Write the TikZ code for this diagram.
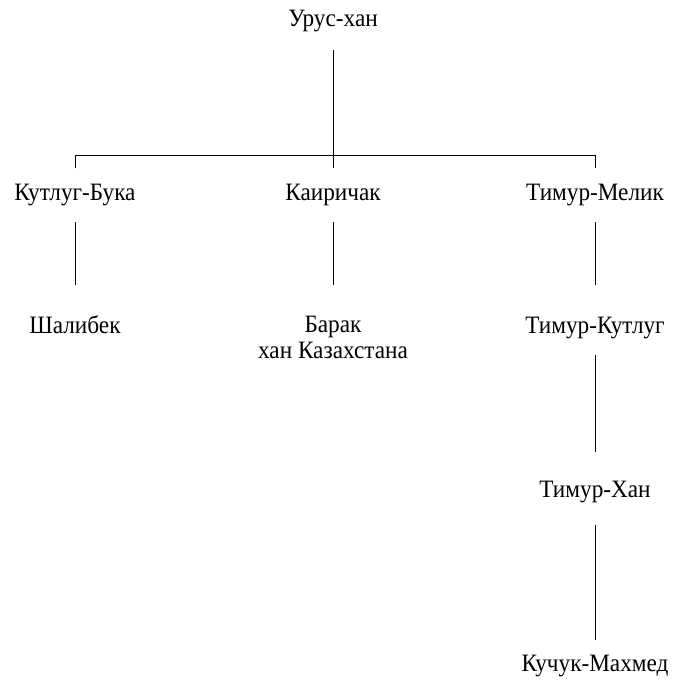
\documentclass[tikz,border=0pt]{standalone}
\usepackage{fontspec}
\setmainfont{Liberation Serif}[FakeStretch=0.93]
\begin{document}
\begin{tikzpicture}[x=1pt,y=-1pt,
  person/.style={inner sep=0pt,font=\fontsize{25}{26}\selectfont,align=center},
  link/.style={line width=0.9pt,black}]
\useasboundingbox (0,0) rectangle (676,680);
\node[person,anchor=base] (ur) at (333,26) {Урус-хан};
\node[person,anchor=base] (kb) at (75,200) {Кутлуг-Бука};
\node[person,anchor=base] (ka) at (333,200) {Каиричак};
\node[person,anchor=base] (tm) at (595,200) {Тимур-Мелик};
\node[person,anchor=base] (sh) at (75,333) {Шалибек};
\node[person] (ba) at (333,337.6) {Барак\\хан Казахстана};
\node[person,anchor=base] (tk) at (595,333) {Тимур-Кутлуг};
\node[person,anchor=base] (th) at (595,497) {Тимур-Хан};
\node[person,anchor=base] (km) at (595,671) {Кучук-Махмед};
\coordinate (barL) at (75,155);
\coordinate (barR) at (595,155);
% top connector
\draw[link] (ur.base) ++(0,24) -- ++(0,118);
\draw[link] (barL) ++(0,13) -- (barL) -- (barR) -- ++(0,13);
% level 2 to level 3
\draw[link] (kb.base) ++(0,22) -- ++(0,63);
\draw[link] (ka.base) ++(0,22) -- ++(0,63);
\draw[link] (tm.base) ++(0,22) -- ++(0,63);
% right chain
\draw[link] (tk.base) ++(0,22) -- ++(0,97);
\draw[link] (th.base) ++(0,28) -- ++(0,115);
\end{tikzpicture}
\end{document}
